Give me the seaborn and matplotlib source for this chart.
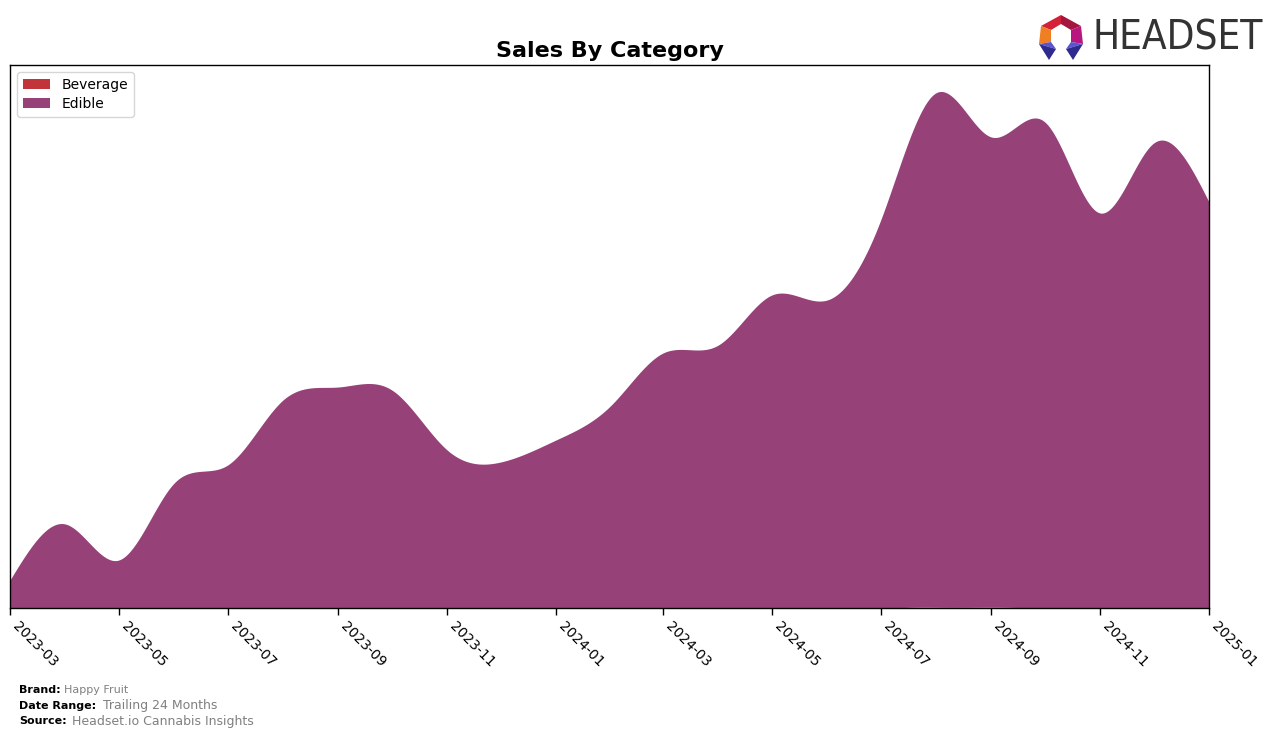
import numpy as np
import pandas as pd
import matplotlib
matplotlib.use("Agg")
import matplotlib.pyplot as plt
import matplotlib.dates as mdates
from matplotlib.patches import Polygon
import seaborn as sns

# ---- data (relative sales units) ----
months = ["2023-03", "2023-04", "2023-05", "2023-06", "2023-07", "2023-08",
          "2023-09", "2023-10", "2023-11", "2023-12", "2024-01", "2024-02",
          "2024-03", "2024-04", "2024-05", "2024-06", "2024-07", "2024-08",
          "2024-09", "2024-10", "2024-11", "2024-12", "2025-01"]
beverage = [0, 0, 0, 0, 0, 0, 0, 0, 0, 0, 0, 0,
            0, 0, 0, 0, 0, 1.2, 1.0, 0, 0, 0, 0]
edible = [28, 84, 48, 125, 143, 208, 221, 218, 158, 146, 168, 203,
          255, 263, 313, 308, 388, 514, 470, 486, 395, 465, 406]
categories = ["Beverage", "Edible"]
colors = ["#C1343A", "#974179"]
tick_labels = ["2023-03", "2023-05", "2023-07", "2023-09", "2023-11", "2024-01",
               "2024-03", "2024-05", "2024-07", "2024-09", "2024-11", "2025-01"]


def natural_spline(x, y, xs):
    x = np.asarray(x, float)
    y = np.asarray(y, float)
    n = len(x)
    h = np.diff(x)
    A = np.zeros((n, n))
    b = np.zeros(n)
    A[0, 0] = 1
    A[-1, -1] = 1
    for i in range(1, n - 1):
        A[i, i - 1] = h[i - 1]
        A[i, i] = 2 * (h[i - 1] + h[i])
        A[i, i + 1] = h[i]
        b[i] = 3 * ((y[i + 1] - y[i]) / h[i] - (y[i] - y[i - 1]) / h[i - 1])
    c = np.linalg.solve(A, b)
    bb = (np.diff(y) / h) - h * (2 * c[:-1] + c[1:]) / 3
    d = np.diff(c) / (3 * h)
    idx = np.clip(np.searchsorted(x, xs) - 1, 0, n - 2)
    dx = xs - x[idx]
    return y[idx] + bb[idx] * dx + c[idx] * dx ** 2 + d[idx] * dx ** 3


dates = pd.to_datetime(months)
xnum = mdates.date2num(dates)
xs = np.linspace(xnum[0], xnum[-1], 1500)
bev_s = np.clip(natural_spline(xnum, beverage, xs), 0, None)
edi_s = np.clip(natural_spline(xnum, edible, xs), 0, None)

sns.set_theme(style="white")
plt.rcParams['font.family'] = ['DejaVu Sans']
plt.rcParams['text.color'] = 'black'
plt.rcParams['axes.labelcolor'] = 'black'
plt.rcParams['xtick.color'] = 'black'

fig = plt.figure(figsize=(12.76, 7.38), dpi=100)
W, H = 1276, 738
ax = fig.add_axes([10 / W, 1 - 608 / H, (1209 - 10) / W, (608 - 65) / H])
ax.stackplot(mdates.num2date(xs), bev_s, edi_s, labels=categories, colors=colors,
             linewidth=0)
ax.set_xlim(xnum[0], xnum[-1])
ax.set_ylim(0, 543)
ax.set_yticks([])
ax.set_xticks(mdates.date2num(pd.to_datetime(tick_labels)))
ax.set_xticklabels(tick_labels, rotation=-45, ha="left", fontsize=10, color="black")
ax.tick_params(axis="x", which="major", length=5, width=1, color="black",
               bottom=True, pad=3)
for sp in ax.spines.values():
    sp.set_color("black")
    sp.set_linewidth(1)
ax.set_xlabel("")
ax.set_ylabel("")
ax.set_title("Sales By Category", fontsize=16, fontweight="bold", pad=6, color="black")
leg = ax.legend(loc="upper left", fontsize=10, frameon=True, handlelength=2,
                borderpad=0.4, labelspacing=0.4)
leg.get_frame().set_edgecolor("#cccccc")
for t in leg.get_texts():
    t.set_color("black")

# footer
fig.text(19 / W, 1 - 690 / H, "Brand:", fontsize=8, fontweight="bold", va="center")
fig.text(64 / W, 1 - 690 / H, "Happy Fruit", fontsize=8, color="gray", va="center")
fig.text(19 / W, 1 - 706 / H, "Date Range:", fontsize=8, fontweight="bold", va="center")
fig.text(103 / W, 1 - 706 / H, "Trailing 24 Months", fontsize=9, color="gray", va="center")
fig.text(19 / W, 1 - 721 / H, "Source:", fontsize=8, fontweight="bold", va="center")
fig.text(72 / W, 1 - 721 / H, "Headset.io Cannabis Insights", fontsize=9, color="gray", va="center")

# logo
lax = fig.add_axes([1036 / W, 1 - 62 / H, 50 / W, 50 / H])
lax.set_xlim(1036, 1086)
lax.set_ylim(62, 12)
lax.axis("off")
polys = [
    ([(1041, 26), (1061, 15), (1061, 24), (1051, 30)], "#D42038"),
    ([(1061, 15), (1081, 26), (1071, 30), (1061, 24)], "#A5163E"),
    ([(1041, 26), (1051, 30), (1051, 42), (1039, 44)], "#F07F23"),
    ([(1081, 26), (1083, 44), (1071, 42), (1071, 30)], "#B8177F"),
    ([(1039, 44), (1051, 42), (1056, 49)], "#5A55D0"),
    ([(1039, 44), (1056, 49), (1049, 60)], "#2F2A8E"),
    ([(1083, 44), (1071, 42), (1066, 49)], "#5A55D0"),
    ([(1083, 44), (1066, 49), (1073, 60)], "#2F2A8E"),
]
for pts, col in polys:
    lax.add_patch(Polygon(pts, closed=True, color=col, lw=0))
fig.text(1092 / W, 1 - 38 / H, "HEADSET", fontsize=29, color="#333333",
         va="center", ha="left", family="DejaVu Sans", fontstretch="condensed")

fig.savefig("out.png", dpi=100)
